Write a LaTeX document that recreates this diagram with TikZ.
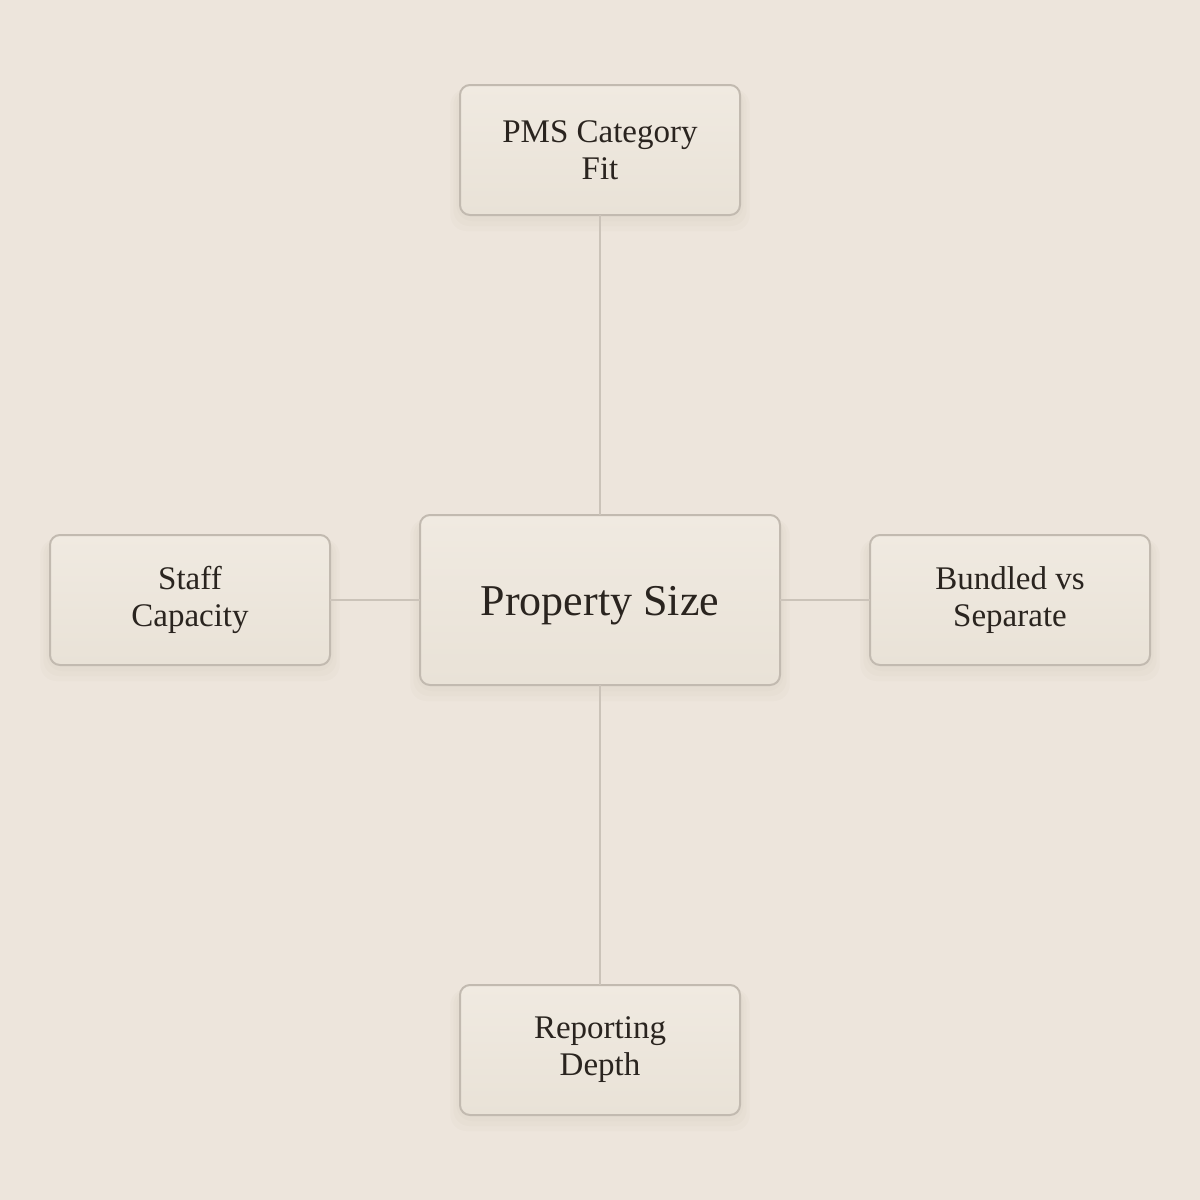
\documentclass[tikz,border=0pt]{standalone}
\usepackage{fontspec}
\setmainfont{Liberation Serif}
\begin{document}
\begin{tikzpicture}[x=0.5pt,y=-0.5pt,
  card/.style={draw=bordc,line width=1pt,rounded corners=5pt,
    top color=cardtop,bottom color=cardbot,inner sep=0pt,outer sep=0pt,
    text=txtc,align=center,font=\fontsize{16.5}{18.5}\selectfont},
  bigcard/.style={card,font=\fontsize{22}{26}\selectfont},
  link/.style={draw=linec,line width=0.8pt}]
\definecolor{bgc}{HTML}{EDE5DC}
\definecolor{bordc}{HTML}{C2BAB0}
\definecolor{cardtop}{HTML}{F0EAE1}
\definecolor{cardbot}{HTML}{E9E2D7}
\definecolor{txtc}{HTML}{2A241F}
\definecolor{linec}{HTML}{CBC3B9}
\definecolor{shc}{HTML}{B8AC9C}
\fill[bgc] (0,0) rectangle (1200,1200);
\useasboundingbox (0,0) rectangle (1200,1200);
% shadows
\foreach \x/\y/\w/\h in {460/85/280/130, 420/515/360/170, 50/535/280/130, 870/535/280/130, 460/985/280/130}{
  \foreach \s in {16,11,6}{
    \fill[shc,opacity=0.05,rounded corners=8pt] (\x-\s*0.6,\y+4) rectangle (\x+\w+\s*0.6,\y+\h+\s);
  }
}
\node[card,minimum width=140pt,minimum height=65pt] (top) at (600,150) {PMS Category\\Fit};
\node[bigcard,minimum width=180pt,minimum height=85pt] (ctr) at (600,600) {\raisebox{-7.5pt}[0pt][0pt]{Property Size}};
\node[card,minimum width=140pt,minimum height=65pt] (lft) at (190,600) {Staff\\Capacity};
\node[card,minimum width=140pt,minimum height=65pt] (rgt) at (1010,600) {Bundled vs\\Separate};
\node[card,minimum width=140pt,minimum height=65pt] (bot) at (600,1050) {Reporting\\Depth};
\draw[link] (top.south) -- (ctr.north);
\draw[link] (ctr.south) -- (bot.north);
\draw[link] (lft.east) -- (ctr.west);
\draw[link] (ctr.east) -- (rgt.west);
\end{tikzpicture}
\end{document}
